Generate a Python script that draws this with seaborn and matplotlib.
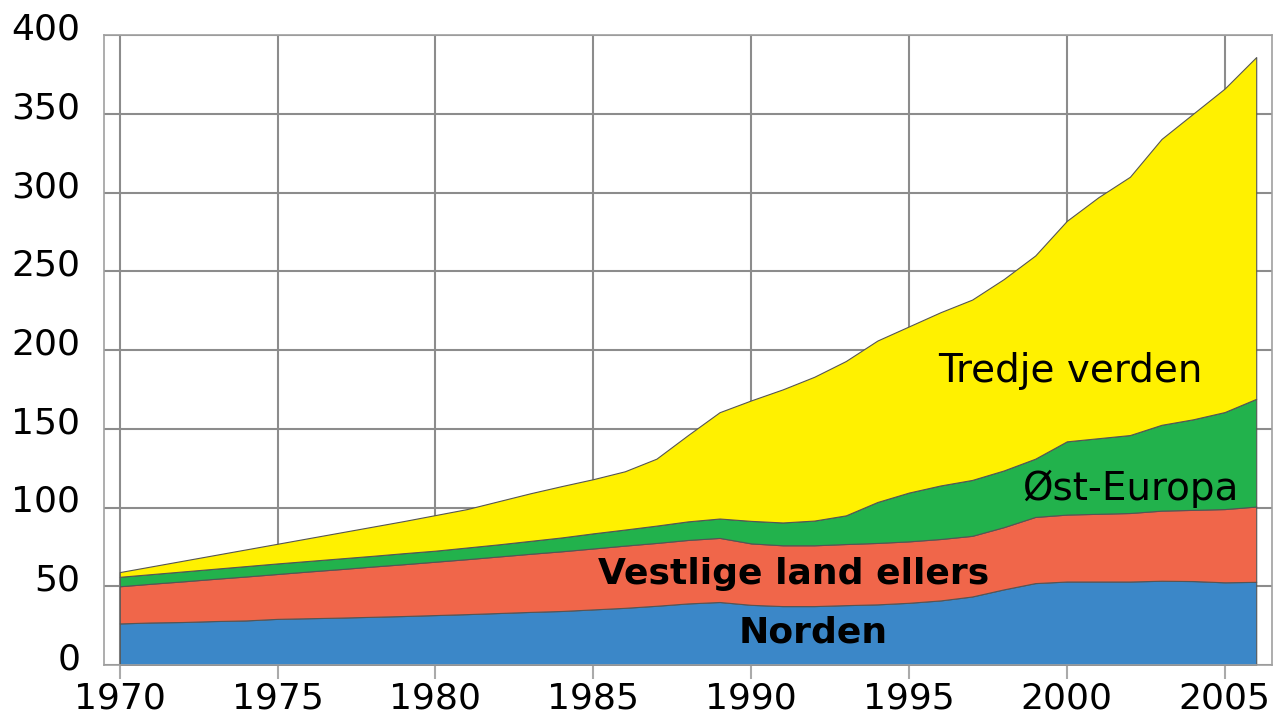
import matplotlib
matplotlib.use("Agg")
import matplotlib.pyplot as plt
import matplotlib.transforms as mtransforms
import seaborn as sns


# Data: immigrants by origin region (thousands), stacked

years = list(range(1970, 2007))

norden = [26.4, 27.0, 27.3, 27.9, 28.3, 29.3, 29.7, 30.1, 30.6, 31.1,
          31.7, 32.3, 33.0, 33.7, 34.3, 35.3, 36.3, 37.6, 39.1, 40.0,
          38.2, 37.4, 37.4, 38.0, 38.5, 39.5, 41.0, 43.5, 48.0, 52.0,
          53.0, 53.0, 53.0, 53.5, 53.3, 52.5, 52.8]

vestlige = [23.6, 24.6, 25.8, 26.8, 27.9, 28.5, 29.7, 30.8, 31.9, 32.9,
            33.9, 34.9, 35.9, 36.9, 37.9, 38.7, 39.5, 39.9, 40.3, 40.7,
            39.0, 38.6, 38.6, 38.8, 39.0, 39.0, 39.0, 38.5, 39.5, 42.0,
            42.5, 43.0, 43.5, 44.5, 45.2, 46.5, 47.8]

ost_europa = [6.0, 6.1, 6.3, 6.4, 6.6, 6.7, 6.7, 6.8, 6.8, 7.0,
              7.0, 7.4, 7.7, 8.2, 8.8, 9.6, 10.2, 11.0, 11.8, 12.3,
              14.3, 14.5, 15.7, 18.2, 26.0, 31.0, 34.0, 35.5, 36.0, 37.0,
              46.5, 48.0, 49.5, 54.5, 57.5, 61.6, 68.4]

tredje = [3.0, 4.9, 6.8, 8.7, 10.6, 12.5, 14.5, 16.5, 18.5, 20.4,
          22.6, 24.4, 27.4, 30.2, 32.6, 34.4, 37.0, 42.5, 54.8, 67.5,
          76.5, 84.5, 91.3, 98.0, 102.5, 105.5, 110.0, 114.5, 121.5, 129.0,
          140.0, 153.0, 164.0, 181.5, 194.0, 205.4, 217.0]

colors = ["#3B87C8", "#F0664A", "#22B24C", "#FFF100"]


# Plot

sns.set_theme(style="whitegrid")
plt.rcParams["font.family"] = ["DejaVu Sans"]

fig = plt.figure(figsize=(12.85, 7.18), dpi=100)
ax = fig.add_axes([104 / 1285, 53 / 718, 1168 / 1285, 630 / 718])

ax.stackplot(years, norden, vestlige, ost_europa, tredje,
             colors=colors, edgecolor="#555555", linewidth=0.8, zorder=2)

ax.set_xlim(1969.5, 2006.5)
ax.set_ylim(0, 400)
ax.set_xticks(range(1970, 2006, 5))
ax.set_yticks(range(0, 401, 50))

ax.grid(True, color="#8c8c8c", linewidth=1.5)
ax.set_axisbelow(True)
for s in ax.spines.values():
    s.set_color("#a0a0a0")
    s.set_linewidth(1.2)

ax.tick_params(axis="x", which="major", bottom=True, length=10, width=1.5,
               color="#aaaaaa", labelsize=26, labelcolor="black", pad=2)
ax.tick_params(axis="y", left=False, labelsize=26, labelcolor="black", pad=11)

# y labels sit a bit above their gridlines
for lab in ax.get_yticklabels():
    lab.set_transform(lab.get_transform() +
                      mtransforms.ScaledTranslation(0, 9 / 100, fig.dpi_scale_trans))

ax.text(2000.1, 186.5, "Tredje verden", fontsize=28, color="black",
        ha="center", va="center", zorder=3)
ax.text(2002.0, 112, "Øst-Europa", fontsize=28, color="black",
        ha="center", va="center", zorder=3)
ax.text(1991.35, 58, "Vestlige land ellers", fontsize=26, fontweight="bold",
        color="black", ha="center", va="center", zorder=3)
ax.text(1991.95, 20.4, "Norden", fontsize=26, fontweight="bold",
        color="black", ha="center", va="center", zorder=3)

fig.savefig("out.png", dpi=100)
